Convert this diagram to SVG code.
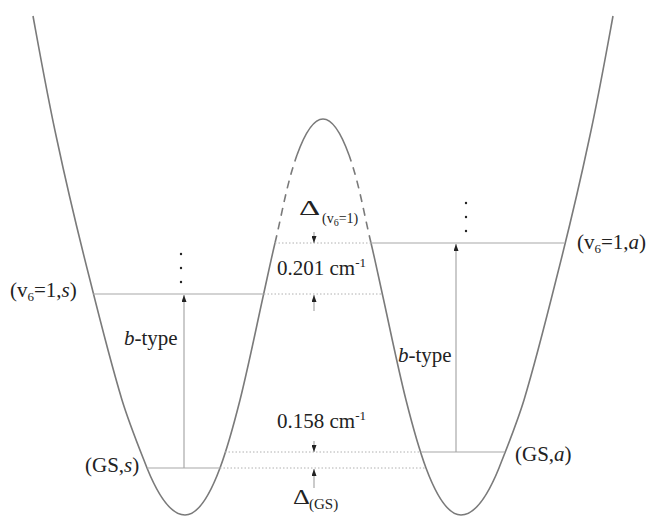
<svg xmlns="http://www.w3.org/2000/svg" xmlns:xlink="http://www.w3.org/1999/xlink" width="647" height="516" viewBox="0 0 647 516">
<style>
.curve{fill:none;stroke:#7a7a7a;stroke-width:1.6}
.dash{fill:none;stroke:#7a7a7a;stroke-width:1.6;stroke-dasharray:8 6}
.lvl{stroke:#a8a8a8;stroke-width:1.2;fill:none}
.dot{stroke:#b0b0b0;stroke-width:1;stroke-dasharray:1.5 2;fill:none}
.arr{stroke:#a8a8a8;stroke-width:1.2;fill:none;marker-end:url(#ah)}
text{font-family:"Liberation Serif","Times New Roman",serif;fill:#222}
.lbl{font-size:21px}
.sub{font-size:13px}
.it{font-style:italic}
</style>
<defs>
<marker id="ah" viewBox="0 0 10 10" refX="10" refY="5" markerWidth="7" markerHeight="5" markerUnits="userSpaceOnUse" orient="auto" preserveAspectRatio="none">
<path d="M0,0 L10,5 L0,10 z" fill="#222"/>
</marker>
<g id="half">
<path class="curve" d="M33,16 C40.5,57 48,99 57,140 C67,187 78,233 90,280 C100,320 110,360 122,400 C129,423 138,445 147,468 C159.7,499.3 172.3,515 185,515 C196.7,515 208.3,499.3 220,468 C228.5,445 234.2,423 240,400 C248.5,366 255.5,331 263,297 C267,279 270.7,261 275,243"/>
<path class="dash" d="M275,243 C282,214 286.6,184 297,155"/>
<path class="curve" d="M297,155 C305.7,131 314.3,119 323,119"/>
</g>
</defs>
<g id="potential">
<use xlink:href="#half"/>
<use xlink:href="#half" transform="matrix(-1 0 0 1 646 0)"/>
</g>
<g id="levels">
<line class="lvl" x1="93" y1="294" x2="264" y2="294"/>
<line class="dot" x1="264" y1="294" x2="382" y2="294"/>
<line class="dot" x1="275" y1="243" x2="371" y2="243"/>
<line class="lvl" x1="371" y1="243" x2="564" y2="243"/>
<line class="lvl" x1="147" y1="468" x2="220" y2="468"/>
<line class="dot" x1="220" y1="468" x2="426" y2="468"/>
<line class="dot" x1="225" y1="452" x2="421" y2="452"/>
<line class="lvl" x1="421" y1="452" x2="505" y2="452"/>
</g>
<g id="connectors">
<line class="arr" x1="184" y1="468" x2="184" y2="295"/>
<line class="arr" x1="456" y1="452" x2="456" y2="244"/>
<line class="arr" x1="314" y1="232" x2="314" y2="243"/>
<line class="arr" x1="314" y1="311" x2="314" y2="295"/>
<line class="arr" x1="314" y1="441" x2="314" y2="452"/>
<line class="arr" x1="314" y1="488" x2="314" y2="469"/>
</g>
<g id="dots" fill="#222">
<circle cx="181" cy="254" r="1.2"/>
<circle cx="181" cy="268" r="1.2"/>
<circle cx="181" cy="282" r="1.2"/>
<circle cx="466" cy="203" r="1.2"/>
<circle cx="466" cy="217" r="1.2"/>
<circle cx="466" cy="231" r="1.2"/>
</g>
<g id="labels">
<text class="lbl" x="10" y="297">(v<tspan class="sub" dy="4">6</tspan><tspan dy="-4">=1,</tspan><tspan class="it">s</tspan>)</text>
<text class="lbl" x="577" y="249">(v<tspan class="sub" dy="4">6</tspan><tspan dy="-4">=1,</tspan><tspan class="it">a</tspan>)</text>
<text class="lbl" x="85" y="472">(GS,<tspan class="it">s</tspan>)</text>
<text class="lbl" x="515" y="461">(GS,<tspan class="it">a</tspan>)</text>
<text class="lbl" x="124" y="345"><tspan class="it">b</tspan>-type</text>
<text class="lbl" x="398" y="362"><tspan class="it">b</tspan>-type</text>
<text class="lbl" x="277" y="275">0.201 cm<tspan class="sub" dy="-8">-1</tspan></text>
<text class="lbl" x="277" y="428">0.158 cm<tspan class="sub" dy="-8">-1</tspan></text>
<text font-size="22" transform="translate(299,215) scale(1.5,1)">Δ</text>
<text font-size="14" x="322" y="223">(v<tspan font-size="10" dy="3">6</tspan><tspan dy="-3">=1)</tspan></text>
<text font-size="21" transform="translate(293,504) scale(1.25,1)">Δ</text>
<text font-size="15" x="309" y="509">(GS)</text>
</g>
</svg>
